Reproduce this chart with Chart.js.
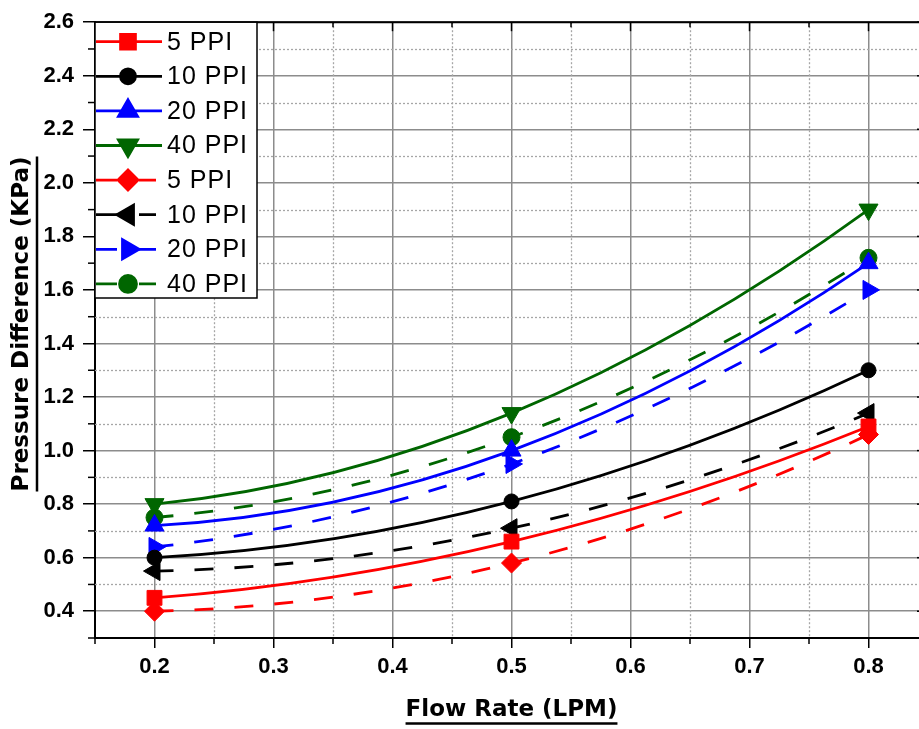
<!DOCTYPE html>
<html>
<head>
<meta charset="utf-8">
<script src="https://cdn.jsdelivr.net/npm/chart.js@4.4.1/dist/chart.umd.min.js"></script>
<style>
    html, body { margin: 0; padding: 0; background: #fff; overflow: hidden; }
    #grafico { display: block; }
</style>
</head>
<body>
<canvas id="grafico" width="940" height="729"></canvas>
<script>
// Caudal (LPM)
const flowRate = [0.2, 0.5, 0.8];

// Curvas continuas
const ppi5 = [0.45, 0.66, 1.09];
const ppi10 = [0.60, 0.81, 1.30];
const ppi20 = [0.72, 1.00, 1.70];
const ppi40 = [0.80, 1.14, 1.90];

// Curvas discontinuas
const ppi5b = [0.40, 0.58, 1.06];
const ppi10b = [0.55, 0.71, 1.14];
const ppi20b = [0.64, 0.95, 1.60];
const ppi40b = [0.75, 1.05, 1.72];

const seriesLabels = ['5 PPI', '10 PPI', '20 PPI', '40 PPI', '5 PPI', '10 PPI', '20 PPI', '40 PPI'];

// Marcas de los ejes
const xMajor = [0.2, 0.3, 0.4, 0.5, 0.6, 0.7, 0.8];
const xMinor = [0.15, 0.25, 0.35, 0.45, 0.55, 0.65, 0.75, 0.85];
const yMajor = [0.4, 0.6, 0.8, 1.0, 1.2, 1.4, 1.6, 1.8, 2.0, 2.2, 2.4, 2.6];
const yMinor = [0.3, 0.5, 0.7, 0.9, 1.1, 1.3, 1.5, 1.7, 1.9, 2.1, 2.3, 2.5];

const RED = '#ff0000', BLACK = '#000000', BLUE = '#0000ff', GREEN = '#006600';
const DASH = [19, 21];
const LINE_W = 2.8;

function serie(label, values, color, pointStyle, radius, rotation, dashed) {
    return {
        label: label,
        data: flowRate.map((x, i) => ({ x: x, y: values[i] })),
        borderColor: color,
        backgroundColor: color,
        borderWidth: LINE_W,
        borderDash: dashed ? DASH : [],
        pointStyle: pointStyle,
        pointRadius: radius,
        pointRotation: rotation,
        pointBorderWidth: 1,
        cubicInterpolationMode: 'monotone',
        dashed: dashed
    };
}

const datasets = [
    serie(seriesLabels[0], ppi5, RED, 'rect', 10.5, 0, false),
    serie(seriesLabels[1], ppi10, BLACK, 'circle', 7.5, 0, false),
    serie(seriesLabels[2], ppi20, BLUE, 'triangle', 11, 0, false),
    serie(seriesLabels[3], ppi40, GREEN, 'triangle', 11, 180, false),
    serie(seriesLabels[4], ppi5b, RED, 'rectRot', 10, 0, true),
    serie(seriesLabels[5], ppi10b, BLACK, 'triangle', 11, -90, true),
    serie(seriesLabels[6], ppi20b, BLUE, 'triangle', 11, 90, true),
    serie(seriesLabels[7], ppi40b, GREEN, 'circle', 8.5, 0, true)
];

// Ajuste cuadrático: las tangentes de la spline se toman de la parábola
// que pasa por los tres puntos de cada serie
const curvaCuadratica = {
    id: 'curvaCuadratica',
    beforeDatasetsDraw(chart) {
        chart.data.datasets.forEach((ds, i) => {
            const meta = chart.getDatasetMeta(i);
            const pts = meta.data;
            if (pts.length !== 3) return;
            meta.dataset.updateControlPoints(chart.chartArea, 'x');
            const [p0, p1, p2] = pts;
            const h1 = p1.x - p0.x, h2 = p2.x - p1.x;
            const s1 = (p1.y - p0.y) / h1, s2 = (p2.y - p1.y) / h2;
            const m1 = (s1 * h2 + s2 * h1) / (h1 + h2);
            const m0 = 2 * s1 - m1;
            const m2 = 2 * s2 - m1;
            p0.cp2x = p0.x + h1 / 3; p0.cp2y = p0.y + m0 * h1 / 3;
            p1.cp1x = p1.x - h1 / 3; p1.cp1y = p1.y - m1 * h1 / 3;
            p1.cp2x = p1.x + h2 / 3; p1.cp2y = p1.y + m1 * h2 / 3;
            p2.cp1x = p2.x - h2 / 3; p2.cp1y = p2.y - m2 * h2 / 3;
        });
    }
};

// Rejilla secundaria punteada y marcas menores
const minorGrid = {
    id: 'minorGrid',
    beforeDatasetsDraw(chart) {
        const { ctx, chartArea: a, scales: { x, y } } = chart;
        ctx.save();
        ctx.strokeStyle = '#a6a6a6';
        ctx.lineWidth = 1.3;
        ctx.setLineDash([2, 2]);
        xMinor.forEach(v => {
            const px = Math.round(x.getPixelForValue(v)) + 0.5;
            if (px <= a.left + 1 || px >= a.right - 1) return;
            ctx.beginPath(); ctx.moveTo(px, a.top); ctx.lineTo(px, a.bottom); ctx.stroke();
        });
        yMinor.forEach(v => {
            const py = Math.round(y.getPixelForValue(v)) + 0.5;
            if (py >= a.bottom - 1 || py <= a.top + 1) return;
            ctx.beginPath(); ctx.moveTo(a.left, py); ctx.lineTo(a.right, py); ctx.stroke();
        });
        ctx.setLineDash([]);

        // marcas exteriores menores e interiores (arriba y derecha)
        ctx.strokeStyle = '#000';
        ctx.lineWidth = 1.5;
        xMinor.forEach(v => {
            const px = x.getPixelForValue(v);
            ctx.beginPath(); ctx.moveTo(px, a.bottom); ctx.lineTo(px, a.bottom + 6); ctx.stroke();
            ctx.beginPath(); ctx.moveTo(px, a.top); ctx.lineTo(px, a.top + 5); ctx.stroke();
        });
        xMajor.forEach(v => {
            const px = x.getPixelForValue(v);
            ctx.beginPath(); ctx.moveTo(px, a.top); ctx.lineTo(px, a.top + 9); ctx.stroke();
        });
        yMinor.forEach(v => {
            const py = y.getPixelForValue(v);
            ctx.beginPath(); ctx.moveTo(a.left - 7, py); ctx.lineTo(a.left, py); ctx.stroke();
            ctx.beginPath(); ctx.moveTo(a.right - 6, py); ctx.lineTo(a.right, py); ctx.stroke();
        });
        yMajor.forEach(v => {
            const py = y.getPixelForValue(v);
            ctx.beginPath(); ctx.moveTo(a.right - 11, py); ctx.lineTo(a.right, py); ctx.stroke();
        });
        ctx.restore();
    }
};

// Marco, leyenda y títulos subrayados
const decoraciones = {
    id: 'decoraciones',
    afterDraw(chart) {
        const { ctx, chartArea: a } = chart;
        ctx.save();

        // marco superior y derecho
        ctx.strokeStyle = '#000';
        ctx.lineWidth = 2;
        ctx.beginPath();
        ctx.moveTo(a.left, a.top);
        ctx.lineTo(a.right, a.top);
        ctx.lineTo(a.right, a.bottom);
        ctx.stroke();

        // leyenda
        const boxL = a.left, boxT = a.top, boxR = 257, boxB = 298;
        ctx.fillStyle = '#fff';
        ctx.fillRect(boxL, boxT, boxR - boxL, boxB - boxT);
        ctx.lineWidth = 1.5;
        ctx.strokeRect(boxL, boxT, boxR - boxL, boxB - boxT);

        chart.data.datasets.forEach((ds, i) => {
            const yy = boxT + 19.5 + i * 34.6;
            const mx = 128;
            ctx.strokeStyle = ds.borderColor;
            ctx.fillStyle = ds.backgroundColor;
            ctx.lineWidth = LINE_W;
            ctx.beginPath();
            if (ds.dashed) {
                ctx.moveTo(boxL + 1, yy); ctx.lineTo(117, yy);
                ctx.moveTo(139, yy); ctx.lineTo(156, yy);
            } else {
                ctx.moveTo(boxL + 1, yy); ctx.lineTo(162, yy);
            }
            ctx.stroke();
            Chart.helpers.drawPoint(ctx, {
                pointStyle: ds.pointStyle,
                rotation: ds.pointRotation,
                radius: ds.pointRadius,
                borderWidth: 1
            }, mx, yy);

            ctx.fillStyle = '#000';
            ctx.font = '25px "Liberation Sans", Arial, sans-serif';
            ctx.letterSpacing = '1px';
            ctx.textAlign = 'left';
            ctx.textBaseline = 'middle';
            ctx.fillText(ds.label, 167, yy + 1);
            ctx.letterSpacing = '0px';
        });

        // título eje X
        ctx.fillStyle = '#000';
        ctx.strokeStyle = '#000';
        ctx.font = 'bold 23px "DejaVu Sans", sans-serif';
        ctx.textAlign = 'center';
        ctx.textBaseline = 'middle';
        const tx = 'Flow Rate (LPM)';
        const cx = (a.left + a.right) / 2;
        ctx.fillText(tx, cx, 710);
        let w = ctx.measureText(tx).width;
        ctx.lineWidth = 2.5;
        ctx.beginPath(); ctx.moveTo(cx - w / 2, 723.5); ctx.lineTo(cx + w / 2, 723.5); ctx.stroke();

        // título eje Y
        const ty = 'Pressure Difference (KPa)';
        ctx.translate(22, 324);
        ctx.rotate(-Math.PI / 2);
        ctx.fillText(ty, 0, 0);
        w = ctx.measureText(ty).width;
        ctx.beginPath(); ctx.moveTo(-w / 2, 15); ctx.lineTo(w / 2, 15); ctx.stroke();

        ctx.restore();
    }
};

const ctx = document.getElementById('grafico').getContext('2d');

new Chart(ctx, {
    type: 'line',
    data: { datasets: datasets },
    options: {
        responsive: false,
        animation: false,
        devicePixelRatio: 1,
        layout: { padding: { left: 0, top: 20, right: 12, bottom: 0 } },
        plugins: {
            legend: { display: false },
            tooltip: { enabled: false }
        },
        scales: {
            x: {
                type: 'linear',
                min: 0.15,
                max: 0.85,
                afterBuildTicks: s => { s.ticks = xMajor.map(v => ({ value: v })); },
                afterFit: s => { s.height = 91; },
                grid: { color: '#8c8c8c', lineWidth: 1.5, tickLength: 10, tickColor: '#000', tickWidth: 1.5 },
                border: { color: '#000', width: 2 },
                ticks: {
                    color: '#000',
                    padding: 6,
                    autoSkip: false,
                    maxRotation: 0,
                    font: { family: '"Liberation Sans", Arial, sans-serif', size: 22, weight: 'bold' },
                    callback: v => v.toFixed(1)
                }
            },
            y: {
                type: 'linear',
                min: 0.3,
                max: 2.6,
                afterBuildTicks: s => { s.ticks = yMajor.map(v => ({ value: v })); },
                afterFit: s => { s.width = 95; },
                grid: { color: '#8c8c8c', lineWidth: 1.5, tickLength: 12, tickColor: '#000', tickWidth: 1.5 },
                border: { color: '#000', width: 2 },
                ticks: {
                    color: '#000',
                    padding: 9,
                    autoSkip: false,
                    font: { family: '"Liberation Sans", Arial, sans-serif', size: 22, weight: 'bold' },
                    callback: v => v.toFixed(1)
                }
            }
        }
    },
    plugins: [curvaCuadratica, minorGrid, decoraciones]
});
</script>
</body>
</html>
